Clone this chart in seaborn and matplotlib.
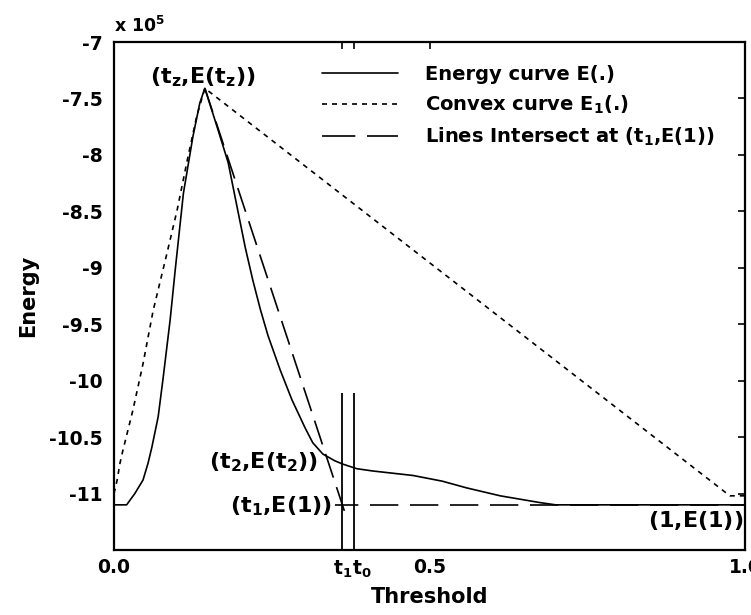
import numpy as np
import pandas as pd
import matplotlib
matplotlib.use("Agg")
import matplotlib.pyplot as plt
import seaborn as sns
from matplotlib.lines import Line2D
from matplotlib.transforms import offset_copy

# ---- data (energy in units of 1e5) ----
energy_t = [0.0, 0.02, 0.033, 0.046, 0.054, 0.060, 0.070, 0.078, 0.089, 0.097, 0.110, 0.125, 0.136, 0.144,
            0.165, 0.181, 0.195, 0.208, 0.220, 0.232, 0.244, 0.263, 0.282, 0.303, 0.315, 0.331, 0.350, 0.363,
            0.385, 0.410, 0.474, 0.520, 0.559, 0.612, 0.675, 0.700, 1.0]
energy_e = [-11.1, -11.1, -11.0, -10.88, -10.73, -10.59, -10.32, -9.97, -9.46, -9.02, -8.34, -7.84, -7.54, -7.41,
            -7.78, -8.07, -8.46, -8.82, -9.11, -9.37, -9.60, -9.90, -10.17, -10.42, -10.55, -10.65, -10.71, -10.74,
            -10.78, -10.80, -10.84, -10.89, -10.95, -11.02, -11.08, -11.1, -11.1]

convex_t = [0.0, 0.005, 0.0095, 0.014, 0.030, 0.046, 0.062, 0.084, 0.100, 0.116, 0.131, 0.144, 0.976, 1.0]
convex_e = [-11.0, -10.88, -10.73, -10.62, -10.26, -9.85, -9.38, -8.87, -8.49, -8.05, -7.66, -7.41, -11.02, -11.02]

isect_t = [0.144, 0.369]
isect_e = [-7.41, -11.22]
level_t = [0.35, 1.0]
level_e = [-11.1, -11.1]

t1, t0 = 0.362, 0.380
vline_top = -10.11

xtick_vals = [0.0, t1, t0, 0.5, 1.0]
xtick_labels = ['0.0', r'$\mathbf{t_1}$', r'$\mathbf{t_0}$', '0.5', '1.0']
ytick_vals = [-7, -7.5, -8, -8.5, -9, -9.5, -10, -10.5, -11]
ytick_labels = ['-7', '-7.5', '-8', '-8.5', '-9', '-9.5', '-10', '-10.5', '-11']

legend_labels = ['Energy curve E(.)', r'Convex curve E$_\mathbf{1}$(.)', r'Lines Intersect at (t$_\mathbf{1}$,E(1))']

# ---- style ----
sns.set_style("white")
plt.rcParams['font.family'] = ['DejaVu Sans']
plt.rcParams['font.weight'] = 'bold'
plt.rcParams['mathtext.fontset'] = 'dejavusans'
plt.rcParams['mathtext.default'] = 'bf'
for k in ['text.color', 'axes.labelcolor', 'xtick.color', 'ytick.color', 'axes.edgecolor']:
    plt.rcParams[k] = 'black'

fig = plt.figure(figsize=(7.51, 6.15), dpi=100)
ax = fig.add_axes([114/751, 1-550/615, (745-114)/751, (550-42)/615])

lw = 1.2
df_e = pd.DataFrame({'t': energy_t, 'E': energy_e})
df_c = pd.DataFrame({'t': convex_t, 'E': convex_e})
df_i = pd.DataFrame({'t': isect_t, 'E': isect_e})
df_l = pd.DataFrame({'t': level_t, 'E': level_e})

sns.lineplot(data=df_e, x='t', y='E', ax=ax, color='black', lw=lw, estimator=None, sort=False)
sns.lineplot(data=df_c, x='t', y='E', ax=ax, color='black', lw=lw, estimator=None, sort=False,
             linestyle=(0, (3, 3)))
sns.lineplot(data=df_i, x='t', y='E', ax=ax, color='black', lw=lw, estimator=None, sort=False,
             linestyle=(0, (15, 6)))
sns.lineplot(data=df_l, x='t', y='E', ax=ax, color='black', lw=lw, estimator=None, sort=False,
             linestyle=(3, (17, 7)))
ax.vlines([t1, t0], -11.5, vline_top, color='black', lw=1.3)

ax.set_xlim(0, 1)
ax.set_ylim(-11.5, -7)
ax.set_xticks(xtick_vals)
ax.set_xticklabels(xtick_labels)
ax.set_yticks(ytick_vals)
ax.set_yticklabels(ytick_labels)
ax.tick_params(axis='both', which='both', direction='in', length=5, width=1.2,
               top=True, right=True, labelsize=13.5, colors='black')
ax.tick_params(axis='y', pad=8)
ax.tick_params(axis='x', pad=6)
xl = ax.get_xticklabels()
for lab in xl + ax.get_yticklabels():
    lab.set_fontweight('bold')
xl[1].set_horizontalalignment('center')
xl[2].set_horizontalalignment('left')
xl[2].set_transform(offset_copy(xl[2].get_transform(), fig=fig, x=-2, y=0, units='dots'))
for s in ax.spines.values():
    s.set_color('black')
    s.set_linewidth(1.6)

ax.set_xlabel('Threshold', fontsize=15, fontweight='bold', labelpad=5)
ax.set_ylabel('Energy', fontsize=15, fontweight='bold', labelpad=8)

ax.text(0.0, 1.012, r'x 10$^{\mathregular{5}}$', transform=ax.transAxes, fontsize=12.5,
        fontweight='bold', ha='left', va='bottom')

fs = 16
ax.text(0.141, -7.31, r'$\mathbf{(t_z{,}E(t_z))}$', fontsize=fs, ha='center', va='center')
ax.text(0.323, -10.72, r'$\mathbf{(t_2{,}E(t_2))}$', fontsize=fs, ha='right', va='center')
ax.text(0.345, -11.11, r'$\mathbf{(t_1{,}E(1))}$', fontsize=fs, ha='right', va='center')
ax.text(0.997, -11.24, r'$\mathbf{(1{,}E(1))}$', fontsize=fs, ha='right', va='center')

handles = [Line2D([], [], color='black', lw=lw),
           Line2D([], [], color='black', lw=lw, linestyle=(0, (3, 3))),
           Line2D([], [], color='black', lw=lw, linestyle=(0, (20, 7)))]
leg = ax.legend(handles, legend_labels, loc='upper left', bbox_to_anchor=(0.33, 0.955),
                frameon=False, fontsize=14, handlelength=3.9, handletextpad=1.4,
                labelspacing=0.5, borderpad=0, borderaxespad=0)
for t in leg.get_texts():
    t.set_fontweight('bold')

fig.savefig('out.png', dpi=100)
